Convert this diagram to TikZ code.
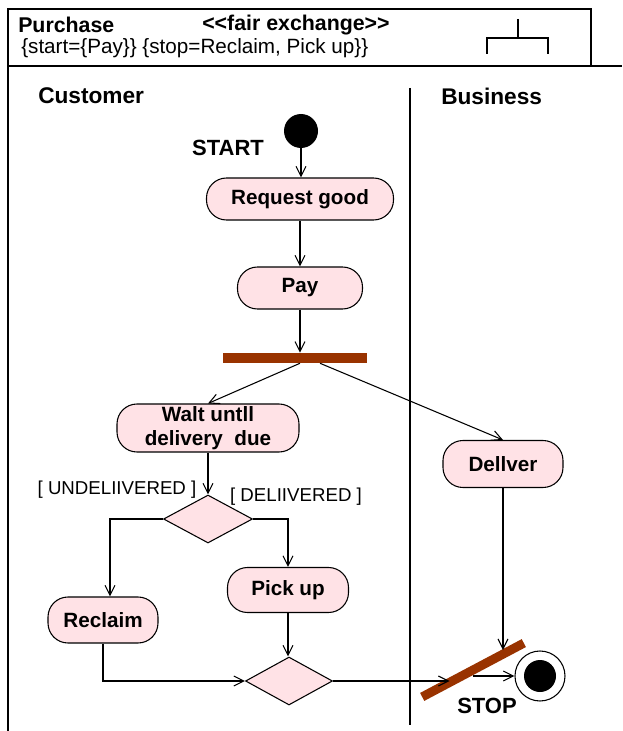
\documentclass[tikz,border=0pt]{standalone}
\usepackage{fontspec}
\setmainfont{Liberation Sans}
\usetikzlibrary{shapes.geometric,arrows.meta,calc}
\definecolor{actfill}{RGB}{255,226,230}
\definecolor{barbrown}{RGB}{153,51,0}

\begin{document}
\begin{tikzpicture}[x=0.75pt,y=-0.75pt,
  frame/.style={line width=0.9pt},
  activity/.style={draw, line width=0.8pt, fill=actfill, rounded corners=15pt,
    font=\fontsize{15.5}{18}\selectfont\bfseries, inner sep=0pt, align=center},
  choice/.style={diamond, draw, line width=0.8pt, fill=actfill, inner sep=0pt},
  syncbar/.style={fill=barbrown, draw=none, inner sep=0pt},
  flow/.style={draw, line width=0.8pt, -{Straight Barb[length=7.5pt,width=7.5pt]}},
  guard/.style={font=\fontsize{14}{16}\selectfont, inner sep=0pt},
  lanetitle/.style={font=\fontsize{17}{19}\selectfont\bfseries, inner sep=0pt},
  statelabel/.style={font=\fontsize{16.5}{19}\selectfont\bfseries, inner sep=0pt},
  headtext/.style={inner sep=0pt, anchor=west},
]
\useasboundingbox (0,0) rectangle (622,731);

% frame, header and swimlane divider
\draw[frame] (8,731) -- (8,9) -- (591,9) -- (591,66);
\draw[frame] (8,66) -- (622,66);
\draw[line width=0.8pt] (518,19) -- (518,38);
\draw[line width=0.8pt] (487,54) -- (487,38) -- (548,38) -- (548,54);
\draw[line width=0.8pt] (410,88) -- (410,725);

\node[headtext, font=\fontsize{16}{18}\selectfont\bfseries] (title) at (18,25) {Purchase};
\node[headtext, font=\fontsize{16}{18}\selectfont\bfseries] (stereo) at (202,25) {<\kern0pt<fair exchange>\kern0pt>};
\node[headtext, font=\fontsize{15.5}{18}\selectfont] (constraints) at (21,48) {\{start=\{Pay\}\} \{stop=Reclaim, Pick up\}\}};

\node[lanetitle, anchor=west] (customer) at (38,96) {Customer};
\node[lanetitle, anchor=west] (business) at (441,96) {Business};

% states and activities
\node[circle, fill=black, minimum size=25.5pt, inner sep=0pt] (start) at (301,131) {};
\node[statelabel] (startlbl) at (228,148) {START};

\node[activity, minimum width=140.25pt, minimum height=31.5pt] (req) at (300,199) {Request good};
\node[activity, minimum width=93.75pt, minimum height=31.5pt] (pay) at (300,288) {Pay};
\node[syncbar, minimum width=108pt, minimum height=7.5pt] (bar) at (295,358) {};

\node[activity, minimum width=136.5pt, minimum height=36pt] (wait) at (208,428) {Walt untll\\delivery~ due};
\node[choice, minimum width=66.75pt, minimum height=36pt] (dec) at (208,519) {};
\node[guard] (undel) at (117,490) {[ UNDELIIVERED ]};
\node[guard] (del) at (296,497) {[ DELIIVERED ]};

\node[activity, minimum width=82.5pt, minimum height=34.5pt] (reclaim) at (103,620) {Reclaim};
\node[activity, minimum width=90.75pt, minimum height=33.75pt] (pickup) at (288,590) {Pick up};
\node[choice, minimum width=65.25pt, minimum height=36pt] (merge) at (289,681) {};

\node[activity, minimum width=90pt, minimum height=35.25pt] (deliver) at (503,464) {Dellver};

\node[syncbar, minimum width=86.25pt, minimum height=6.75pt, rotate=27.9] (join) at (473,670) {};
\node[circle, draw, line width=0.8pt, fill=white, minimum size=37.5pt, inner sep=0pt] (final) at (540,676) {};
\node[circle, fill=black, minimum size=24pt, inner sep=0pt] (finaldot) at (final) {};
\node[statelabel] (stoplbl) at (487,706) {STOP};

% control flows
\draw[flow] (start.south) -- (start.south |- req.north);
\draw[flow] (req.south) -- (req.south |- pay.north);
\draw[flow] (pay.south) -- (pay.south |- bar.north);
\draw[flow] ($(bar.south)+(5,0)$) -- (wait.north);
\draw[flow] ($(bar.south)+(25,0)$) -- (deliver.north);
\draw[flow] (wait.south) -- (dec.north);
\draw[flow] (dec.west) -| ($(reclaim.north)+(7,0)$);
\draw[flow] (dec.east) -| (pickup.north);
\draw[flow] (pickup.south) -- (pickup.south |- merge.north);
\draw[flow] (reclaim.south) |- (merge.west);
\coordinate (joinin) at ($(join.west)!0.27!(join.east)$);
\coordinate (joindel) at ($(join.north west)!0.79!(join.north east)$);
\draw[flow] (merge.east) -- (merge.east -| joinin);
\draw[flow] (deliver.south) -- (deliver.south |- joindel);
\draw[flow] (final.west -| join.center) -- (final.west);
\end{tikzpicture}
\end{document}
